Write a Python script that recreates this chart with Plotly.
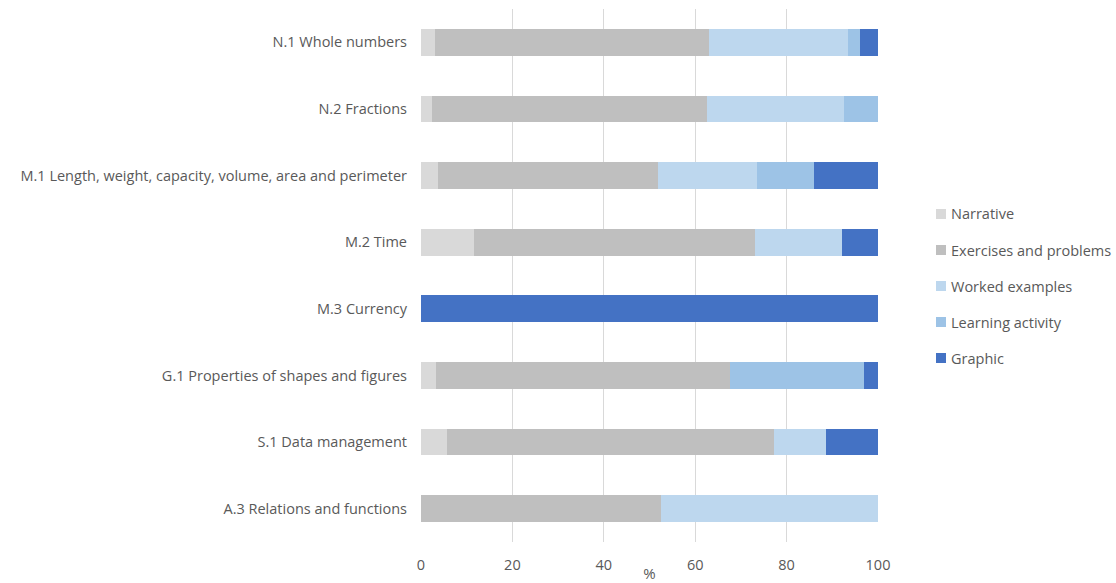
import plotly.graph_objects as go

# Topic categories (top to bottom)
topics = [
    "N.1 Whole numbers",
    "N.2 Fractions",
    "M.1 Length, weight, capacity, volume, area and perimeter",
    "M.2 Time",
    "M.3 Currency",
    "G.1 Properties of shapes and figures",
    "S.1 Data management",
    "A.3 Relations and functions",
]

# Share (%) of each content type per topic
narrative = [3.0, 2.5, 3.8, 11.5, 0, 3.3, 5.7, 0]
exercises = [60.0, 60.0, 48.0, 61.5, 0, 64.4, 71.6, 52.5]
worked = [30.5, 30.0, 21.7, 19.2, 0, 0, 11.3, 47.5]
learning = [2.5, 7.5, 12.4, 0, 0, 29.2, 0, 0]
graphic = [4.0, 0, 14.1, 7.7, 100.0, 3.1, 11.4, 0]

x_ticks = [0, 20, 40, 60, 80, 100]

series_names = ["Narrative", "Exercises and problems", "Worked examples",
                "Learning activity", "Graphic"]
series_values = [narrative, exercises, worked, learning, graphic]
series_colors = ["#D9D9D9", "#BFBFBF", "#BDD7EE", "#9DC3E6", "#4472C4"]

W, H = 1116, 583
M_L, M_R, M_T, M_B = 421, 238, 9, 41
plot_w = W - M_L - M_R
plot_h = H - M_T - M_B

font_family = "Open Sans, Liberation Sans, sans-serif"
text_color = "#595959"

fig = go.Figure()
for name, vals, color in zip(series_names, series_values, series_colors):
    fig.add_trace(go.Bar(
        y=topics, x=vals, name=name, orientation="h",
        marker=dict(color=color, line=dict(width=0)),
        showlegend=False,
    ))

# Legend to the right of the plot: small squares with labels
leg_x_px = 936
leg_y0_px = 214
leg_step_px = 36
sq = 10
shapes, annotations = [], []
for i, (name, color) in enumerate(zip(series_names, series_colors)):
    cy = leg_y0_px + i * leg_step_px
    x0 = (leg_x_px - M_L) / plot_w
    x1 = (leg_x_px + sq - M_L) / plot_w
    y0 = 1 - (cy + sq / 2 - M_T) / plot_h
    y1 = 1 - (cy - sq / 2 - M_T) / plot_h
    shapes.append(dict(type="rect", xref="paper", yref="paper",
                       x0=x0, x1=x1, y0=y0, y1=y1,
                       fillcolor=color, line=dict(width=0)))
    annotations.append(dict(
        text=name, xref="paper", yref="paper",
        x=(leg_x_px + sq + 3 - M_L) / plot_w, y=1 - (cy - M_T) / plot_h,
        xanchor="left", yanchor="middle", showarrow=False,
        font=dict(size=14.5, color=text_color, family=font_family),
    ))

fig.update_layout(
    barmode="stack",
    bargap=0.6,
    width=W, height=H,
    margin=dict(l=M_L, r=M_R, t=M_T, b=M_B, autoexpand=False),
    plot_bgcolor="white", paper_bgcolor="white",
    font=dict(family=font_family, size=14.5, color=text_color),
    showlegend=False,
    shapes=shapes,
    annotations=annotations,
    xaxis=dict(
        range=[0, 100], tickvals=x_ticks,
        showgrid=True, gridcolor="#D9D9D9", gridwidth=1,
        zeroline=False, showline=False, ticks="",
        ticklabelstandoff=12,
        tickfont=dict(size=14.5, color=text_color),
        title=dict(text="%", font=dict(size=15, color=text_color), standoff=0),
    ),
    yaxis=dict(
        categoryorder="array", categoryarray=topics[::-1],
        showgrid=False, zeroline=False, showline=False, ticks="",
        ticklabelstandoff=13,
        tickfont=dict(size=14.5, color=text_color),
    ),
)

fig.write_html("out.html")
